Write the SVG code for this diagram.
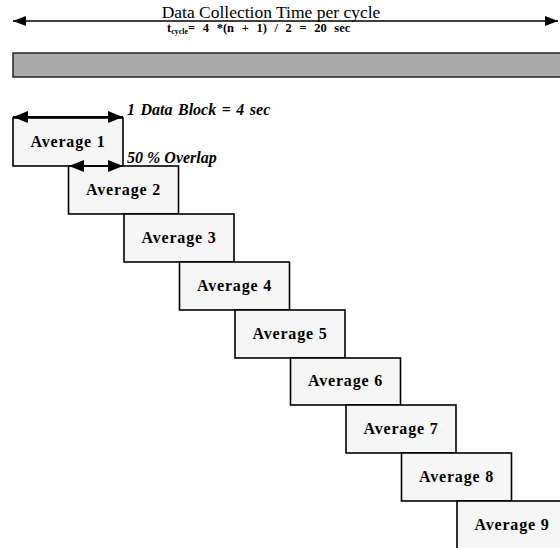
<svg xmlns="http://www.w3.org/2000/svg" width="560" height="548" viewBox="0 0 560 548">
<defs>
<marker id="ah" markerUnits="userSpaceOnUse" markerWidth="16" markerHeight="12" refX="15" refY="6" orient="auto-start-reverse">
<path d="M0,0 L15,6 L0,12 Z" fill="#000"/>
</marker>
<marker id="ahs" markerUnits="userSpaceOnUse" markerWidth="14" markerHeight="10" refX="13" refY="5" orient="auto-start-reverse">
<path d="M0,0 L13,5 L0,10 Z" fill="#000"/>
</marker>
</defs>
<style>
.box{fill:#f6f6f6;stroke:#000;stroke-width:1.6}
.serif{font-family:'Liberation Serif','Times New Roman',serif;fill:#000}
.lbl{font-family:'Liberation Serif','Times New Roman',serif;font-weight:bold;font-size:16px;letter-spacing:0.8px;fill:#000;text-anchor:middle}
.note{font-family:'Liberation Serif','Times New Roman',serif;font-weight:bold;font-style:italic;font-size:16px;fill:#000}
.conn{stroke:#000;fill:none}
</style>
<rect width="560" height="548" fill="#fff"/>
<g id="header">
<text class="serif" x="271" y="18" font-size="17.5" text-anchor="middle">Data Collection Time per cycle</text>
<text class="serif" x="167" y="32" font-size="12.5" font-weight="bold" word-spacing="4.5">t<tspan font-size="8" dy="2">cycle</tspan><tspan dy="-2">= 4 *(n + 1) / 2  = 20 sec</tspan></text>
</g>
<g id="cycle-bar">
<rect x="13" y="53" width="550" height="24" fill="#aaaaaa" stroke="#222" stroke-width="1.5"/>
</g>
<g id="avg1"><rect class="box" x="13" y="118" width="110" height="48"/><text class="lbl" x="68" y="147">Average 1</text></g>
<g id="avg2"><rect class="box" x="68.5" y="166" width="110" height="48"/><text class="lbl" x="123.5" y="195">Average 2</text></g>
<g id="avg3"><rect class="box" x="124" y="214" width="110" height="48"/><text class="lbl" x="179" y="243">Average 3</text></g>
<g id="avg4"><rect class="box" x="179.5" y="262" width="110" height="48"/><text class="lbl" x="234.5" y="291">Average 4</text></g>
<g id="avg5"><rect class="box" x="235" y="310" width="110" height="48"/><text class="lbl" x="290" y="339">Average 5</text></g>
<g id="avg6"><rect class="box" x="290.5" y="358" width="110" height="47"/><text class="lbl" x="345.5" y="386">Average 6</text></g>
<g id="avg7"><rect class="box" x="346" y="405" width="110" height="48"/><text class="lbl" x="401" y="434">Average 7</text></g>
<g id="avg8"><rect class="box" x="401.5" y="453" width="110" height="48"/><text class="lbl" x="456.5" y="482">Average 8</text></g>
<g id="avg9"><rect class="box" x="457" y="501" width="110" height="48"/><text class="lbl" x="512" y="530">Average 9</text></g>
<g id="notes">
<text class="note" x="127" y="115" word-spacing="1.5">1 Data Block = 4 sec</text>
<text class="note" x="127" y="163">50 % Overlap</text>
</g>
<g id="connectors">
<line class="conn" x1="13" y1="21" x2="558" y2="21" stroke-width="1.5" marker-start="url(#ahs)" marker-end="url(#ahs)"/>
<line class="conn" x1="13" y1="117" x2="123" y2="117" stroke-width="2" marker-start="url(#ah)" marker-end="url(#ah)"/>
<line class="conn" x1="69" y1="166" x2="123" y2="166" stroke-width="2" marker-start="url(#ah)" marker-end="url(#ah)"/>
</g>
</svg>
